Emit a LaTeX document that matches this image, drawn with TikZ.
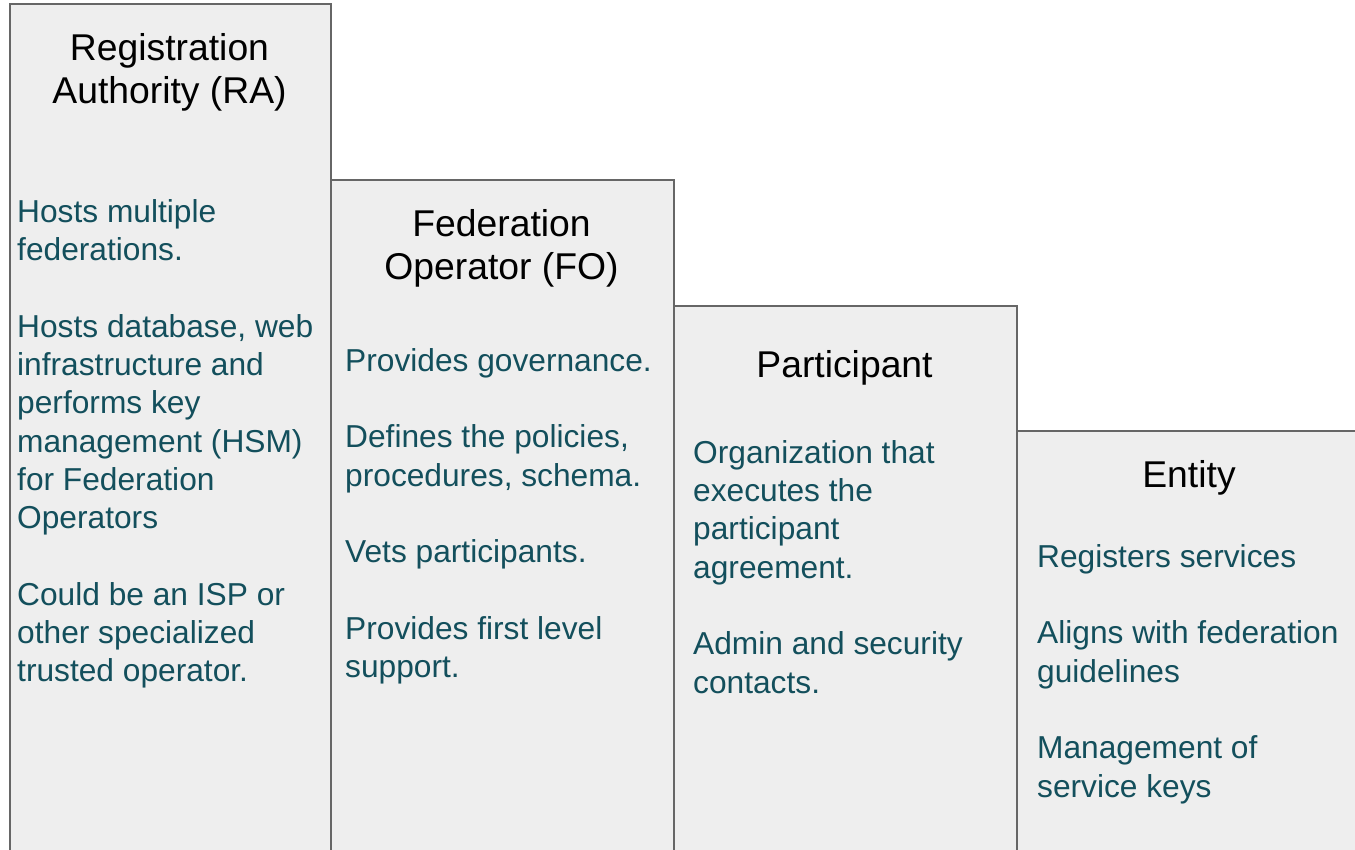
\documentclass[tikz,border=0pt]{standalone}
\usepackage{fontspec}
\setmainfont{Liberation Sans}
\definecolor{boxfill}{HTML}{EEEEEE}
\definecolor{boxline}{HTML}{666666}
\definecolor{bodytext}{HTML}{134F5C}
\tikzset{
  colbox/.style={draw=boxline, line width=1.8pt, fill=boxfill, anchor=north west, inner sep=0pt, rectangle},
  coltitle/.style={anchor=north, align=center, inner sep=0pt, text=black, font=\fontsize{37.3}{43}\selectfont},
  colbody/.style={anchor=north west, align=left, inner sep=0pt, text=bodytext, font=\fontsize{31.7}{38.3}\selectfont},
}
\begin{document}
\begin{tikzpicture}[x=1pt, y=-1pt]
\useasboundingbox (0,0) rectangle (1355,849);
\clip (0,0) rectangle (1355,849);
\fill[white] (0,0) rectangle (1355,849);
% boxes
\node[colbox, minimum width=321pt, minimum height=857pt] (ra) at (9,3) {};
\node[colbox, minimum width=343pt, minimum height=681pt] (fo) at (330,179) {};
\node[colbox, minimum width=343pt, minimum height=555pt] (pa) at (673,305) {};
\node[colbox, minimum width=349pt, minimum height=430pt] (en) at (1016,430) {};
% titles
\node[coltitle] (raT) at (169.5,29.9) {\strut Registration\\Authority (RA)};
\node[coltitle] (foT) at (501.5,205.9) {\strut Federation\\Operator (FO)};
\node[coltitle] (paT) at (844.5,346.9) {\strut Participant};
\node[coltitle] (enT) at (1189,456.9) {\strut Entity};
% bodies
\node[colbody] (raB) at (17,195.2) {\strut Hosts multiple\\federations.\\[38.3pt]Hosts database, web\\infrastructure and\\performs key\\management (HSM)\\for Federation\\Operators\\[38.3pt]Could be an ISP or\\other specialized\\trusted operator.};
\node[colbody] (foB) at (345,344.2) {\strut Provides governance.\\[38.3pt]Defines the policies,\\procedures, schema.\\[38.3pt]Vets participants.\\[38.3pt]Provides first level\\support.};
\node[colbody] (paB) at (693,436.2) {\strut Organization that\\executes the\\participant\\agreement.\\[38.3pt]Admin and security\\contacts.};
\node[colbody] (enB) at (1037,540.2) {\strut Registers services\\[38.3pt]Aligns with federation\\guidelines\\[38.3pt]Management of\\service keys};
\end{tikzpicture}
\end{document}
